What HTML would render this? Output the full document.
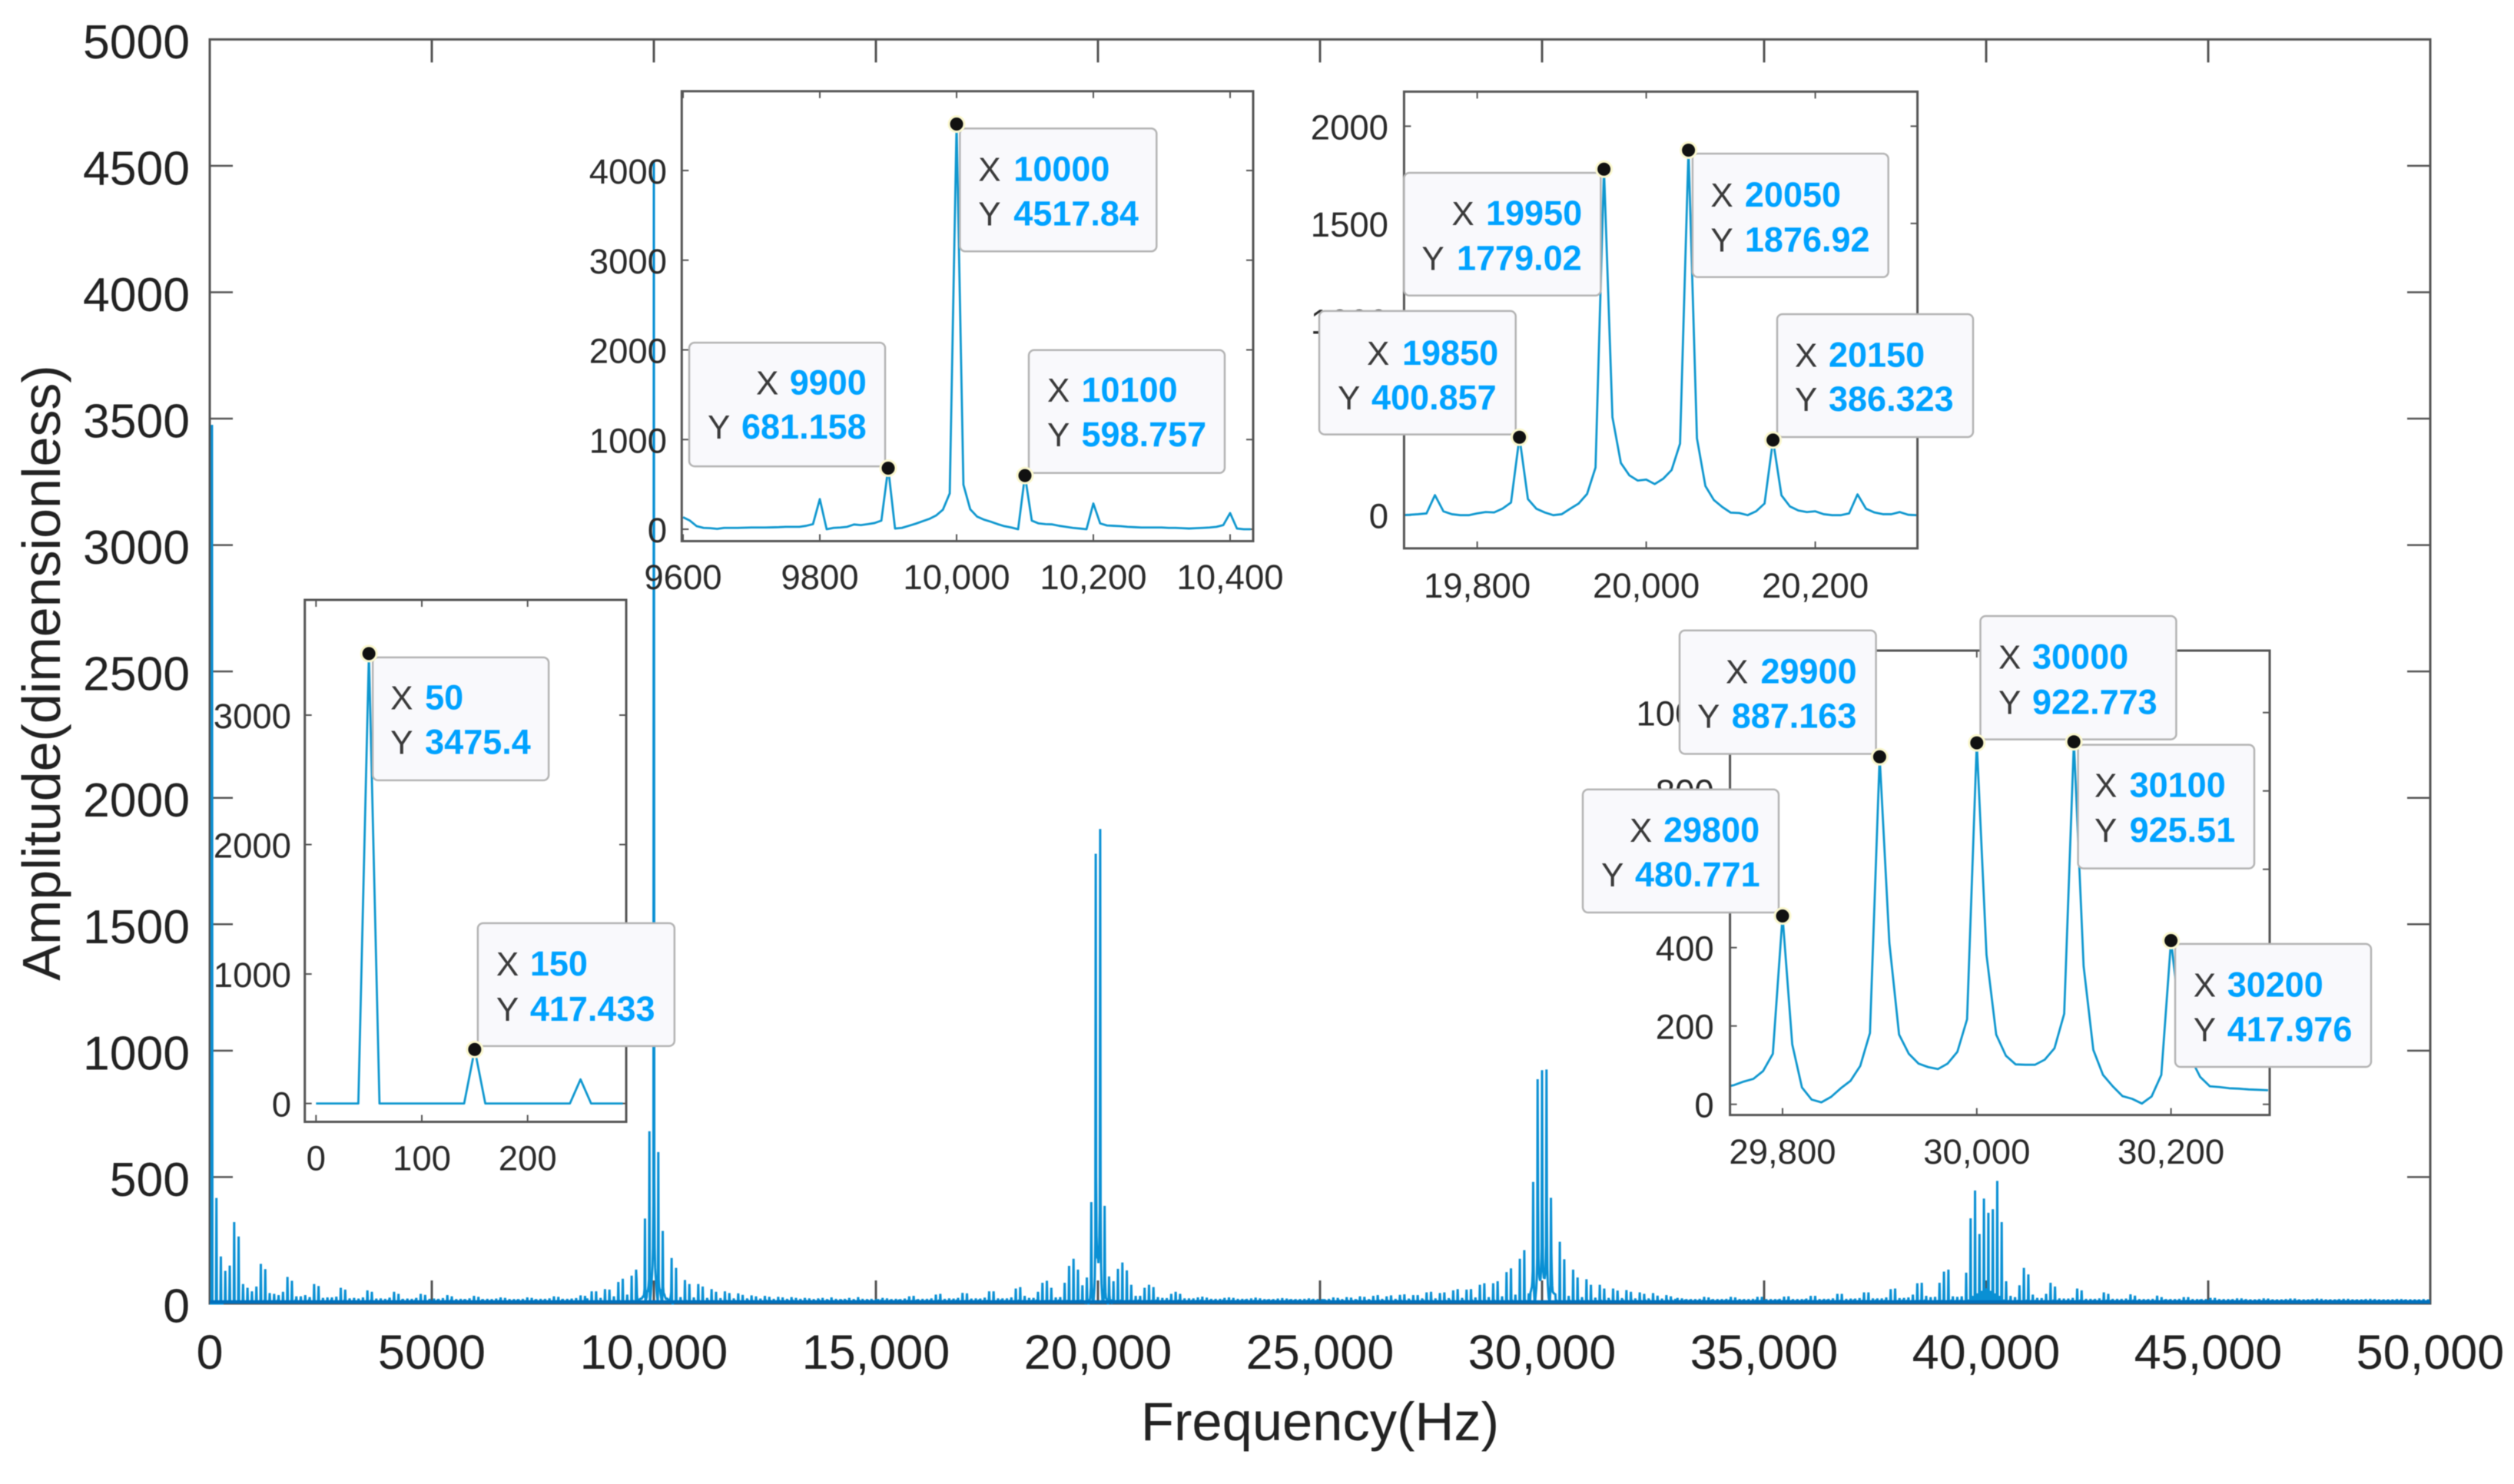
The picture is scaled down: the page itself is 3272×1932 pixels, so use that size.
<!DOCTYPE html>
<html lang="en">
<head>
<meta charset="utf-8">
<title>Amplitude spectrum</title>
<style>
html,body{margin:0;padding:0;background:#fff}
svg{display:block}
text{font-family:"Liberation Sans",Arial,sans-serif}
</style>
</head>
<body>
<svg id="chart" xmlns="http://www.w3.org/2000/svg" width="3272" height="1932" viewBox="0 0 3272 1932">
  <g id="root" style="filter:blur(0.6px)">
    <rect x="0" y="0" width="3272" height="1932" fill="#ffffff"/>
    <text x="1718" y="1875" font-size="70.5" text-anchor="middle" fill="#222">Frequency(Hz)</text>
    <text transform="translate(78 876) rotate(-90)" font-size="70" text-anchor="middle" fill="#222">Amplitude(dimensionless)</text>
  </g>
</svg>
<script>
/* ---------- main axis ---------- */
const mainXTicks = [0,5000,10000,15000,20000,25000,30000,35000,40000,45000,50000];
const mainXTickLabels = ["0","5000","10,000","15,000","20,000","25,000","30,000","35,000","40,000","45,000","50,000"];
const mainYTicks = [0,500,1000,1500,2000,2500,3000,3500,4000,4500,5000];
const mainYTickLabels = ["0","500","1000","1500","2000","2500","3000","3500","4000","4500","5000"];
const floorAmplitude = 6;

/* ---------- main spectrum: amplitude read every 100 Hz from the given first frequency ---------- */
const harmonicsFrom250 = [190,129,150,322,265,77,62,48,67,157,136,41,38,33,46,105,90,28,28,33,25,77,69,22,24,24,27,62,55,20,22,19,24,52,46,19,20,18,23,46,38,18,19,18,22,38,34,18,19,18,21,33,28,17,18,17,20,30,26,17,18,17,19,24,22,17,17,17,18,24,22,17,18,18,20,28,26,18,18,19,21,32,30];
const harmonicsFrom8500 = [20,48,48,22,57,55,28,85,98,35,110];
const harmonicsFrom10500 = [141,25,93,77,24,77,67,22,57,46,21,48,41,20,40,34,20,32,28,19,30,26,18,26,24,18,25,22,18,22,20,17,20,22,17,24,18,17,18,22,17,25,18,17,18,17];
const harmonicsFrom15050 = [17,22,20,17,18,17,19,28,30,17,18,18,20,35,38,18,20,19,22,42,40,19,20,19,23,48,48,20,20,20,24,59,65,30,22,22,46,82,90,62,24,25,82,149,177,134,72];
const harmonicsFrom20350 = [88,137,162,131,74,30,30,62,74,65,25,22,21,38,46,38,20,20,20,24,27,23,18,18,18,22,24,22,18,18,18,20,23,20,17,17,17,19,21,19,17,17,17,18,20,18,17,17];
const harmonicsFrom25100 = [17,18,24,22,17,25,23,17,28,26,17,30,33,18,28,32,18,34,36,19,33,33,20,44,46,20,41,44,21,52,57,22,55,57,24,74,80,25,80,88,28,124,139,35,177,211,40];
const harmonicsFrom30400 = [244,175,30,134,103,25,96,74,23,74,59,22,59,51,21,53,46,20,44,38,20,41,31,19,33,28,18];
const harmonicsFrom33050 = [22,20,17,17,17,18,26,24,17,17,17,18,26,24,17,17,17,18,26,26,17,17,17,18,27,28,17,17,17,19,30,30,17,18,18,20,38,38,18,19,19,21,44,44,20,20,20,24,57,59,21,22,24,35,80,82,30,25,26,82,126,134,28,26,28,122,337,447,275,415,359,373,485,322,88,30,25,72,141,115,35,22,21,38,82,67,20,19,19,22,59,52,18,18,18,20,44,38,18,18,18,19,36,31,17,17,17,18,31,25,17,17,17,18,25,25,17,17,17,17,22,22,17,17,17,17,20,20,17,16,16,17,20,19,16,16,16,17,19,19,16,16,16,17,19,18,16,16,16,17,18,18,16,16,16,17,18,17,16,16,16,16,17,17,16,16,16,16,17,16];
const cluster40kFloor = [15,30,40,50,60,50,40,30,15]; /* 39600 to 40400 every 100 Hz */
/* small in-between grass, every 100 Hz from 1020 Hz */
const secondaryGrass = [
10,8,9,7,8,9,10,8,7,9,8,7,9,10,8,8,7,9,8,7,
9,8,8,10,7,8,9,7,8,10,9,8,7,9,10,8,9,7,8,8,
11,9,10,12,9,11,10,9,12,11,10,9,11,12,10,9,11,10,12,9,
10,12,11,9,10,13,11,10,12,9,11,13,10,11,12,10,9,13,11,10,
12,11,13,10,12,14,11,10,13,12,11,14,12,10,13,11,12,14,10,13,
12,11,14,13,10,12,14,11,13,12,10,14,13,11,12,15,13,11,14,12,
13,15,11,12,14,13,12,15,11,14,13,12,15,14,11,13,15,12,14,13,
12,15,13,14,11,15,12,14,13,15,12,13,14,11,15,13,12,14,15,12,
13,14,12,15,13,14,11,12,15,13,14,12,15,13,12,14,15,11,13,14,
12,15,13,14,12,13,15,12,14,13,11,15,14,12,13,15,12,14,13,15,
12,13,14,15,11,13,14,12,15,13,12,14,13,15,12,14,13,11,15,13,
14,12,13,15,12,14,13,12,15,14,13,11,12,15,14,13,12,14,15,13,
12,14,13,11,15,12,14,13,15,12,13,14,12,15,13,14,11,13,15,12,
14,13,12,15,14,13,12,11,14,15,13,12,14,13,15,12,13,14,12,15,
13,12,14,15,11,13,14,12,15,13,12,14,13,15,12,11,14,13,15,12,
14,13,12,15,13,14,12,11,15,13,14,12,13,15,14,12,13,11,15,14,
12,13,15,14,12,13,14,11,15,12,13,14,15,12,13,14,12,11,15,13,
14,12,13,15,12,14,13,12,11,15,14,13,12,14,15,13,12,14,11,13,
15,12,14,13,12,15,13,14,12,11,13,15,14,12,13,14,15,12,11,13,
14,12,15,13,14,12,13,11,15,14,12,13,14,15,12,13,11,14,12,15,
13,14,12,13,11,15,14,12,13,14,12,15,13,11,14,12,13,15,14,12,
13,11,14,15,12,13,14,12,13,11,15,14,12,13,12,14,13,11,15,12,
14,13,12,13,11,14,12,13,14,12,11,13,12,14,13,12,11,13,14,12,
13,11,12,14,13,12,11,13,12,14,13,11,12,13,12,14,11,13,12,13,
12,11,13,12,14,11,12,13,12,11,13,12,11,13,12,11,12,13,11,12];

/* ---------- inset spectra: amplitude every 10 Hz ---------- */
const insetLowValues = [0,0,0,0,0,3475.4,0,0,0,0,0,0,0,0,0,417.433,0,0,0,0,0,0,0,0,0,186,0,0,0,0];
const inset10kValues = [134,96,34,15,12,4,15,15,15,17,19,19,19,21,23,27,27,27,38,57,336,0,15,19,27,53,46,57,69,96,681.158,8,15,38,61,88,115,153,218,400,4517.84,497,222,141,107,84,57,34,19,0,598.757,96,65,57,54,38,27,15,8,0,287,65,42,38,34,27,23,19,19,19,19,15,15,12,8,12,15,19,27,46,180,8,0,0];
const inset20kValues = [0,2,5,9,103,20,5,0,0,9,16,14,34,65,400.857,83,33,14,0,5,33,60,109,245,1779.02,504,268,205,178,183,160,187,232,368,1876.92,395,150,78,42,13,11,0,20,60,386.323,102,45,24,16,20,5,0,0,9,107,33,14,5,5,16,2,0];
const inset30kValues = [44,49,58,65,85,129,480.771,153,43,12,5,19,41,60,98,182,887.163,412,178,129,104,95,90,104,134,217,922.773,382,178,124,102,101,101,114,143,231,925.51,353,139,75,46,21,14,2,20,75,417.976,200,119,70,46,44,41,40,38,37,36];

const insetLowXTicks = [0,100,200];
const insetLowXLabels = ["0","100","200"];
const insetLowYTicks = [0,1000,2000,3000];
const insetLowYLabels = ["0","1000","2000","3000"];
const inset10kXTicks = [9600,9800,10000,10200,10400];
const inset10kXLabels = ["9600","9800","10,000","10,200","10,400"];
const inset10kYTicks = [0,1000,2000,3000,4000];
const inset10kYLabels = ["0","1000","2000","3000","4000"];
const inset20kXTicks = [19800,20000,20200];
const inset20kXLabels = ["19,800","20,000","20,200"];
const inset20kYTicks = [0,500,1000,1500,2000];
const inset20kYLabels = ["0","500","1000","1500","2000"];
const inset30kXTicks = [29800,30000,30200];
const inset30kXLabels = ["29,800","30,000","30,200"];
const inset30kYTicks = [0,200,400,600,800,1000];
const inset30kYLabels = ["0","200","400","600","800","1000"];

/* ---------- helpers ---------- */
const SVGNS = "http://www.w3.org/2000/svg";
const root = document.getElementById("root");
const AXIS = "#555555";
const INK = "#222222";
const LINE = "#0a90d4";
const BAND = "#0070bd";
const VALUE = "#00a2ff";

function make(tag, parent, attrs, content){
  const el = document.createElementNS(SVGNS, tag);
  for (const k in attrs) el.setAttribute(k, attrs[k]);
  if (content !== undefined) el.textContent = content;
  parent.appendChild(el);
  return el;
}
function linear(d0, p0, d1, p1){
  return function(v){ return p0 + (v - d0) * (p1 - p0) / (d1 - d0); };
}

/* ---------- main plot ---------- */
const mainLeft = 273, mainRight = 3163, mainTop = 51.3, mainBottom = 1697;
const xMain = linear(0, mainLeft, 50000, mainRight);
const yMain = linear(0, mainBottom, 5000, mainTop);

const mainSamples = new Array(5001).fill(floorAmplitude);
function applyHarmonics(startHz, amps){
  amps.forEach(function(a, i){
    const idx = (startHz + i * 100) / 10;
    if (idx <= 5000) mainSamples[idx] = a;
  });
}
function applyGrass(startHz, amps){
  amps.forEach(function(a, i){
    const idx = (startHz + i * 100) / 10;
    if (idx <= 5000 && mainSamples[idx] === floorAmplitude) mainSamples[idx] = a;
  });
}
function applyFine(startHz, amps){
  amps.forEach(function(a, i){ mainSamples[(startHz + i * 10) / 10] = a; });
}
applyHarmonics(250, harmonicsFrom250);
applyHarmonics(8500, harmonicsFrom8500);
applyHarmonics(10500, harmonicsFrom10500);
applyHarmonics(15050, harmonicsFrom15050);
applyHarmonics(20350, harmonicsFrom20350);
applyHarmonics(25100, harmonicsFrom25100);
applyHarmonics(30400, harmonicsFrom30400);
applyHarmonics(33050, harmonicsFrom33050);
applyHarmonics(39600, cluster40kFloor);
applyGrass(1020, secondaryGrass);
applyFine(0, insetLowValues);
applyFine(9600, inset10kValues);
applyFine(19710, inset20kValues);
applyFine(29740, inset30kValues);

const mainGroup = make("g", root, {});



const mainFrame = make("rect", mainGroup, {x:mainLeft, y:mainTop, width:mainRight-mainLeft, height:mainBottom-mainTop, fill:"none", stroke:AXIS, "stroke-width":3});



mainXTicks.forEach(function(t, i){
  const x = xMain(t);
  const b = make("line", mainGroup, {x1:x, x2:x, y1:mainBottom, y2:mainBottom-30, stroke:AXIS, "stroke-width":3});
  
  
  const u = make("line", mainGroup, {x1:x, x2:x, y1:mainTop, y2:mainTop+30, stroke:AXIS, "stroke-width":3});
  
  
  const l = make("text", mainGroup, {x:x, y:1782, "font-size":63, "text-anchor":"middle", fill:INK}, mainXTickLabels[i]);
  
  
});
mainYTicks.forEach(function(t, i){
  const y = yMain(t);
  const a = make("line", mainGroup, {x1:mainLeft, x2:mainLeft+30, y1:y, y2:y, stroke:AXIS, "stroke-width":2.5});
  
  
  const c = make("line", mainGroup, {x1:mainRight, x2:mainRight-30, y1:y, y2:y, stroke:AXIS, "stroke-width":2.5});
  
  
  const l = make("text", mainGroup, {x:247, y:y+24.5, "font-size":62.5, "text-anchor":"end", fill:INK}, mainYTickLabels[i]);
  
  
});
const mainPts = mainSamples.map(function(v, i){ return xMain(i * 10).toFixed(2) + "," + yMain(v).toFixed(2); }).join(" ");
const mainLine = make("polyline", mainGroup, {points:mainPts, fill:"none", stroke:LINE, "stroke-width":3, "stroke-linejoin":"miter", "stroke-miterlimit":2});


const mainBand = make("line", mainGroup, {x1:xMain(0), x2:xMain(50000), y1:yMain(floorAmplitude), y2:yMain(floorAmplitude), stroke:BAND, "stroke-width":4.5});



/* ---------- insets ---------- */
function drawInset(cfg){
  const g = make("g", root, {});
  
  
  const w = cfg.right - cfg.left, h = cfg.bottom - cfg.top;
  const bg = make("rect", g, {x:cfg.left, y:cfg.top, width:w, height:h, fill:"#ffffff"});
  
  
  const clip = make("clipPath", g, {id:cfg.name + "-clip"});
  make("rect", clip, {x:cfg.left, y:cfg.top, width:w, height:h});

  cfg.yTicks.forEach(function(t, i){
    const y = cfg.y(t);
    const a = make("line", g, {x1:cfg.left, x2:cfg.left+9, y1:y, y2:y, stroke:AXIS, "stroke-width":2});
    
    
    const b = make("line", g, {x1:cfg.right, x2:cfg.right-9, y1:y, y2:y, stroke:AXIS, "stroke-width":2});
    
    
    const l = make("text", g, {x:cfg.yLabelRight, y:y+17, "font-size":45.5, "text-anchor":"end", fill:"#2a2a2a"}, cfg.yLabels[i]);
    
    
  });
  cfg.xTicks.forEach(function(t, i){
    const x = cfg.x(t);
    const a = make("line", g, {x1:x, x2:x, y1:cfg.bottom, y2:cfg.bottom-9, stroke:AXIS, "stroke-width":2});
    
    
    const b = make("line", g, {x1:x, x2:x, y1:cfg.top, y2:cfg.top+9, stroke:AXIS, "stroke-width":2});
    
    
    const l = make("text", g, {x:x, y:cfg.xLabelBase, "font-size":45.5, "text-anchor":"middle", fill:"#2a2a2a"}, cfg.xLabels[i]);
    
    
  });

  const pts = cfg.values.map(function(v, i){ return cfg.x(cfg.start + i * 10).toFixed(2) + "," + cfg.y(v).toFixed(2); }).join(" ");
  const line = make("polyline", g, {points:pts, fill:"none", stroke:"#0f97cf", "stroke-width":2.8, "stroke-linejoin":"round", "clip-path":"url(#" + cfg.name + "-clip)"});
  
  

  const frame = make("rect", g, {x:cfg.left, y:cfg.top, width:w, height:h, fill:"none", stroke:AXIS, "stroke-width":3});
  
  

  return g;
}

function drawTip(cfg, g, hz, dx, dy, w, h, xGlyph, xVal, yGlyph, yVal, base1, base2){
  const val = cfg.values[(hz - cfg.start) / 10];
  const mx = cfg.x(hz), my = cfg.y(val);
  const bx = mx + dx, by = my + dy;
  const tip = make("g", g, {});
  
  
  const box = make("rect", tip, {x:bx, y:by, width:w, height:h, rx:7, ry:7, fill:"#f9f9fc", stroke:"#b4b4b4", "stroke-width":2.5});
  
  
  const xl = make("text", tip, {x:bx+xGlyph, y:by+base1, "font-size":44, fill:"#3a3a3a"}, "X");
  
  
  const xv = make("text", tip, {x:bx+xVal, y:by+base1, "font-size":45, "font-weight":"bold", fill:VALUE}, String(hz));
  
  
  const yl = make("text", tip, {x:bx+yGlyph, y:by+base2, "font-size":44, fill:"#3a3a3a"}, "Y");
  
  
  const yv = make("text", tip, {x:bx+yVal, y:by+base2, "font-size":45, "font-weight":"bold", fill:VALUE}, String(val));
  
  
  const halo = make("circle", tip, {cx:mx, cy:my, r:10, fill:"#111111", stroke:"#fbf8cf", "stroke-width":3});
  
  
}

const insetLow = {name:"inset-low-frequency", left:396.7, right:815, top:781, bottom:1460.5,
  x:linear(0,411.3,200,686.7), y:linear(0,1436.6,3000,931), start:0, values:insetLowValues,
  xTicks:insetLowXTicks, xLabels:insetLowXLabels, yTicks:insetLowYTicks, yLabels:insetLowYLabels,
  yLabelRight:379, xLabelBase:1523.7};
const inset10k = {name:"inset-10khz", left:887.3, right:1631, top:118.75, bottom:704.5,
  x:linear(10000,1245,10200,1423), y:linear(0,689,4000,222), start:9600, values:inset10kValues,
  xTicks:inset10kXTicks, xLabels:inset10kXLabels, yTicks:inset10kYTicks, yLabels:inset10kYLabels,
  yLabelRight:868, xLabelBase:767};
const inset20k = {name:"inset-20khz", left:1827.4, right:2495.6, top:119.3, bottom:713.9,
  x:linear(20000,2142.6,20200,2362.6), y:linear(0,670.7,2000,164.3), start:19710, values:inset20kValues,
  xTicks:inset20kXTicks, xLabels:inset20kXLabels, yTicks:inset20kYTicks, yLabels:inset20kYLabels,
  yLabelRight:1807, xLabelBase:778};
const inset30k = {name:"inset-30khz", left:2251.6, right:2954, top:847, bottom:1451.6,
  x:linear(30000,2572.8,30200,2825.6), y:linear(0,1437.7,1000,927.7), start:29740, values:inset30kValues,
  xTicks:inset30kXTicks, xLabels:inset30kXLabels, yTicks:inset30kYTicks, yLabels:inset30kYLabels,
  yLabelRight:2230.7, xLabelBase:1514.8};

const gLow = drawInset(insetLow);
const g10k = drawInset(inset10k);
const g20k = drawInset(inset20k);
const g30k = drawInset(inset30k);

drawTip(insetLow, gLow, 50, 5, 5, 229, 160, 23, 68, 23, 68, 67.5, 125.5);
drawTip(insetLow, gLow, 150, 4, -164.4, 256, 160, 24, 68, 24, 68, 68, 127);

drawTip(inset10k, g10k, 9900, -259, -163.4, 255, 161, 87, 130.7, 24, 68, 67.4, 125);
drawTip(inset10k, g10k, 10000, 4.3, 5.7, 256, 160, 24, 70, 24, 70, 68.3, 126.3);
drawTip(inset10k, g10k, 10100, 5, -163.3, 255, 160, 24, 68.5, 24, 68.5, 67.4, 125.4);

drawTip(inset20k, g20k, 19950, -260.2, 4.8, 256, 159.7, 62, 106.6, 23, 68.6, 67.8, 126.6);
drawTip(inset20k, g20k, 19850, -260.6, -164.3, 255.7, 160.7, 62, 108, 24, 68, 70, 128);
drawTip(inset20k, g20k, 20050, 5.3, 4.5, 254.8, 160.8, 23.5, 68, 23.5, 68, 69, 127.3);
drawTip(inset20k, g20k, 20150, 5.4, -163.9, 255, 160, 23, 67, 23, 67, 68.4, 126);

drawTip(inset30k, g30k, 29800, -260, -164.7, 255, 160.2, 61, 105, 24, 68, 68.2, 126.2);
drawTip(inset30k, g30k, 29900, -260.4, -164.5, 255.6, 160.7, 60, 105.5, 23, 67.7, 68.7, 126.9);
drawTip(inset30k, g30k, 30000, 4.7, -165.1, 254.9, 160.6, 23.5, 67.5, 23.5, 67.5, 68.5, 127.3);
drawTip(inset30k, g30k, 30100, 5.4, 3.9, 229.4, 161, 21.4, 67, 21.4, 67, 68, 126.4);
drawTip(inset30k, g30k, 30200, 5.4, 4.3, 255, 160.2, 23.7, 67.7, 23.7, 67.7, 68.6, 126.8);
</script>
</body>
</html>
